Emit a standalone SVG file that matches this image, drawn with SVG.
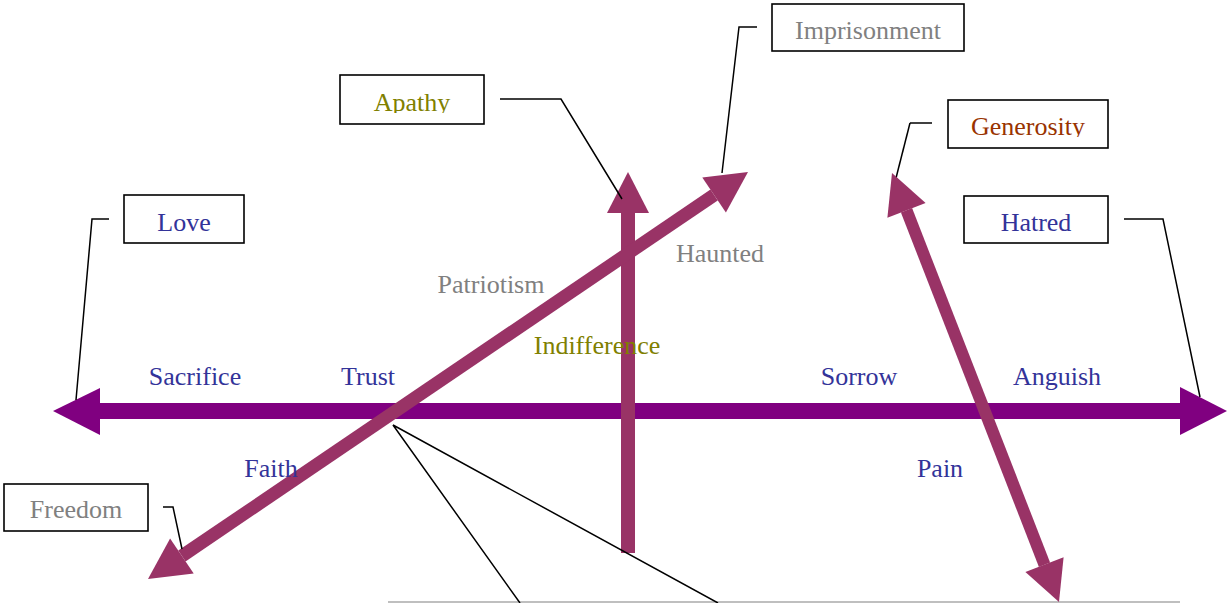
<svg xmlns="http://www.w3.org/2000/svg" width="1227" height="603" viewBox="0 0 1227 603">
<style>
text{font-family:"Liberation Serif","Times New Roman",serif;font-size:26px;text-anchor:middle}
.box{fill:#fff;stroke:#000;stroke-width:1.6}
.call{fill:none;stroke:#000;stroke-width:1.5}
.blue{fill:#333399}.gray{fill:#808080}.olive{fill:#808000}.rust{fill:#993300}
.cr{fill:#993366}
</style>
<defs>
<clipPath id="cA"><rect x="340" y="75" width="144" height="38"/></clipPath>
<clipPath id="cG"><rect x="948" y="99" width="160" height="38"/></clipPath>
</defs>
<rect width="1227" height="603" fill="#fff"/>
<g id="connectors">
<line x1="388" y1="602" x2="1180" y2="602" stroke="#aaaaaa" stroke-width="1.5"/>
<polyline class="call" points="910,123 896,178"/>
<polyline class="call" points="932,123 910,123"/>
<!-- horizontal axis -->
<rect x="99" y="403" width="1082" height="16" fill="#800080"/>
<polygon points="53,411 100,388 100,435" fill="#800080"/>
<polygon points="1227,411 1180,387 1180,435" fill="#800080"/>
<!-- vertical arrow -->
<rect x="621" y="212" width="14" height="341" class="cr"/>
<polygon points="628,172 607,213 649,213" class="cr"/>
<!-- diagonal arrow -->
<line x1="181.9" y1="556" x2="714.1" y2="195" stroke="#993366" stroke-width="13"/>
<polygon points="748,172 725.9,212.4 702.3,177.6" class="cr"/>
<polygon points="148,579 193.7,573.4 170.1,538.6" class="cr"/>
<!-- steep arrow -->
<line x1="906.5" y1="210.3" x2="1044.5" y2="564.7" stroke="#993366" stroke-width="12"/>
<polygon points="892,173 925.6,202.9 887.4,217.7" class="cr"/>
<polygon points="1059,602 1063.6,557.3 1025.4,572.1" class="cr"/>
<!-- callout lines -->
<polyline class="call" points="109,219 92,219 76,400"/>
<polyline class="call" points="500,99 561,99 622,199"/>
<polyline class="call" points="757,27 739,27 722,173"/>
<polyline class="call" points="1124,219 1163,219 1200,397"/>
<polyline class="call" points="163,507 173,507 182,549"/>
<polyline class="call" points="520,603 393,425 718,603"/>
</g>
<g id="love"><rect class="box" x="124" y="195" width="120" height="48"/><text class="blue" x="184" y="231">Love</text></g>
<g id="apathy"><rect class="box" x="340" y="75" width="144" height="49"/><text class="olive" x="412" y="111" clip-path="url(#cA)">Apathy</text></g>
<g id="imprisonment"><rect class="box" x="772" y="4" width="192" height="47"/><text class="gray" x="868" y="39">Imprisonment</text></g>
<g id="generosity"><rect class="box" x="948" y="100" width="160" height="48"/><text class="rust" x="1028" y="135" clip-path="url(#cG)">Generosity</text></g>
<g id="hatred"><rect class="box" x="964" y="196" width="144" height="47"/><text class="blue" x="1036" y="231">Hatred</text></g>
<g id="freedom"><rect class="box" x="4" y="484" width="144" height="47"/><text class="gray" x="76" y="518">Freedom</text></g>
<g id="labels">
<text class="blue" x="195" y="385">Sacrifice</text>
<text class="blue" x="368" y="385">Trust</text>
<text class="gray" x="491" y="293">Patriotism</text>
<text class="gray" x="720" y="262">Haunted</text>
<text class="olive" x="597" y="354">Indifference</text>
<text class="blue" x="859" y="385">Sorrow</text>
<text class="blue" x="1057" y="385">Anguish</text>
<text class="blue" x="271" y="477">Faith</text>
<text class="blue" x="940" y="477">Pain</text>
</g>
</svg>
